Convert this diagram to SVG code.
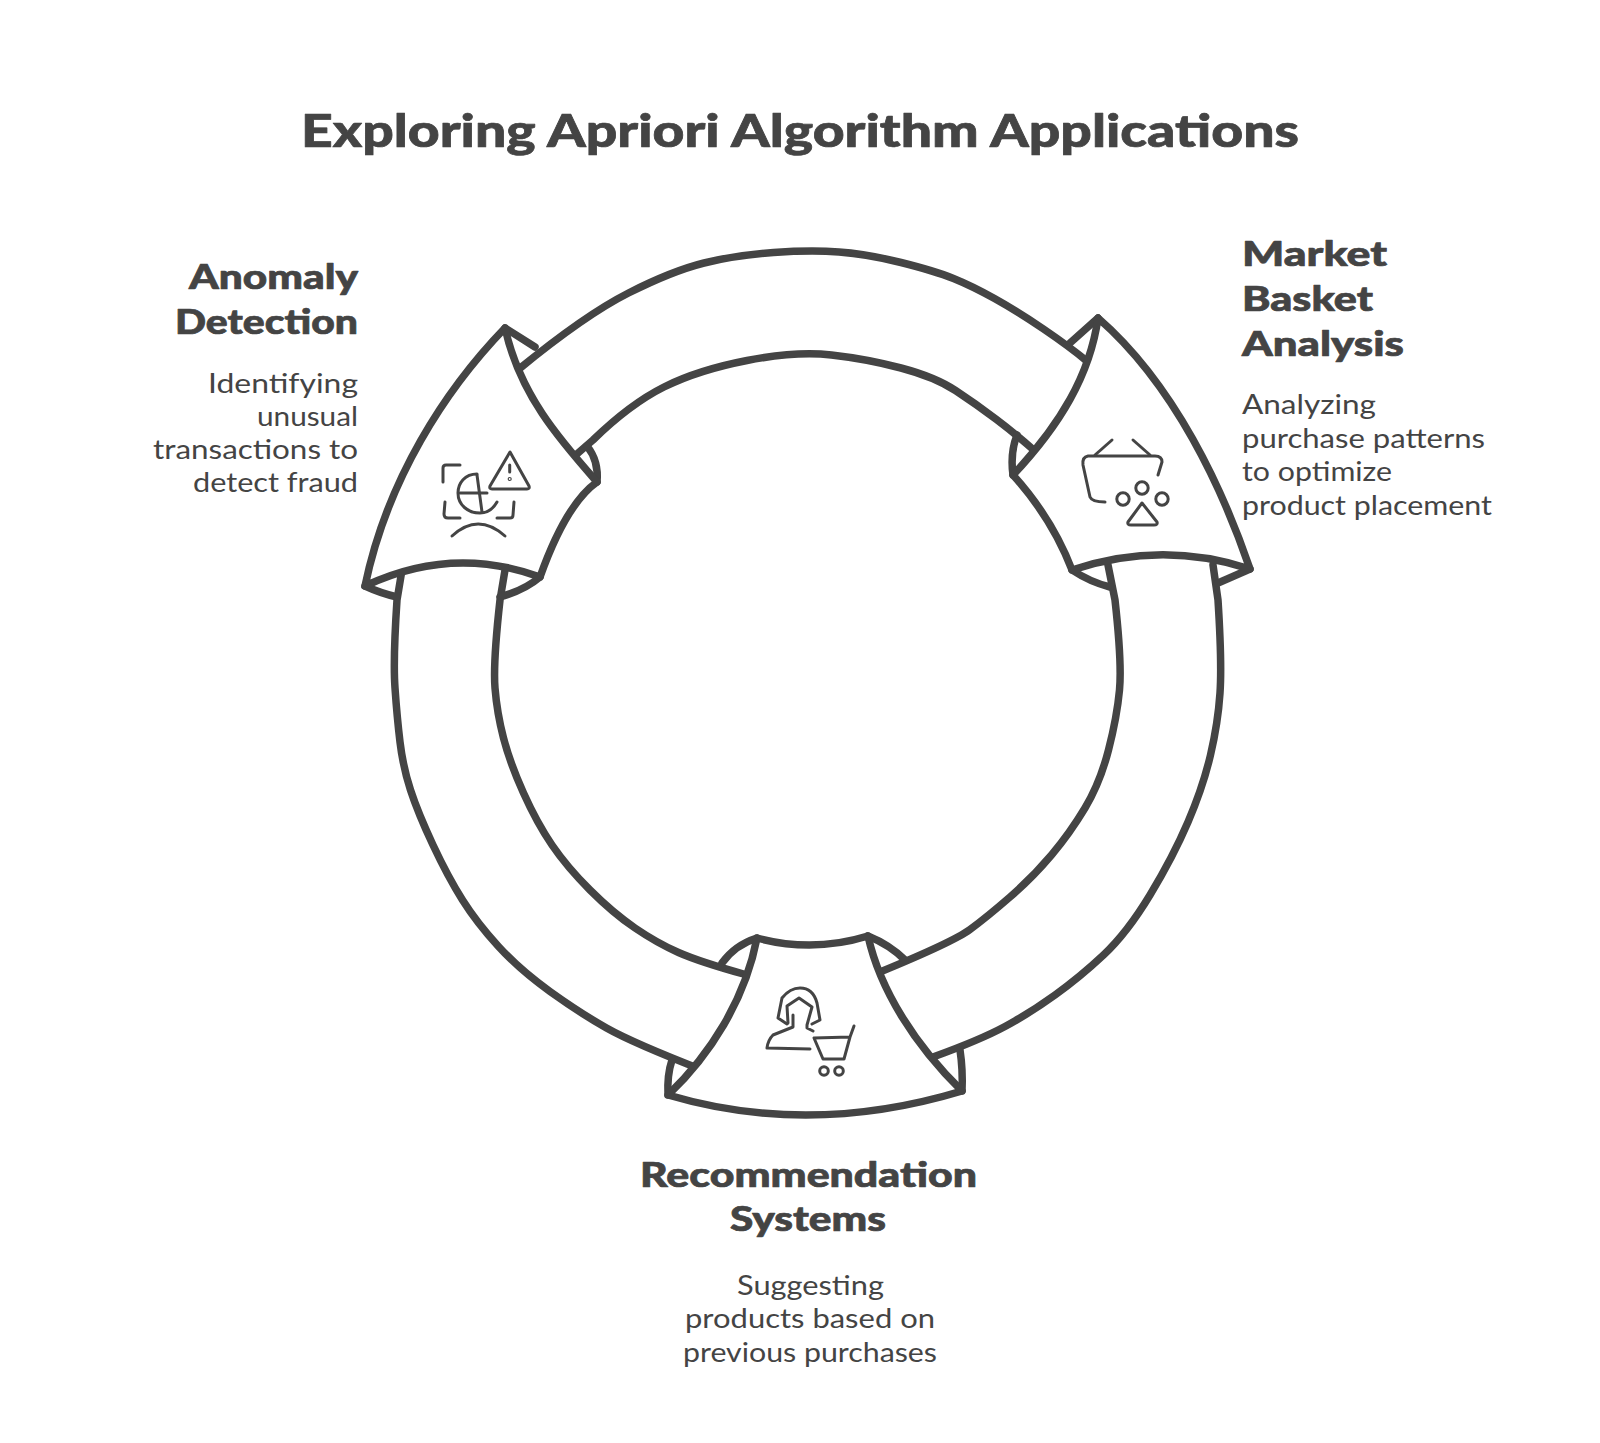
<svg xmlns="http://www.w3.org/2000/svg" width="1600" height="1443" viewBox="0 0 1600 1443">
<style>
.head{font-family:"Lato","Liberation Sans",sans-serif;font-weight:900;fill:#444;stroke:#444;stroke-width:0.7;stroke-linejoin:round}
.title{font-size:46px}
.h{font-size:34px}
.d{font-family:"Lato","Liberation Sans",sans-serif;font-weight:400;font-size:27px;fill:#444}
.band{fill:none;stroke:#444;stroke-width:7.5;stroke-linecap:round;stroke-linejoin:round}
.shape{fill:#fff;stroke:#444;stroke-width:7.5;stroke-linejoin:round}
.icon{fill:none;stroke:#444;stroke-width:3;stroke-linecap:round;stroke-linejoin:round}
</style>
<rect width="1600" height="1443" fill="#fff"/>
<text id="title" class="head title" x="301" y="147" textLength="998" lengthAdjust="spacingAndGlyphs">Exploring Apriori Algorithm Applications</text>
<g id="connectors">
<path class="band" d="M519,369 Q585,315 628.5,293 Q672,271 704,263 Q736,255 773.5,252.5 Q811,250 839,252 Q867,254 901,262.5 Q935,271 953.5,278.5 Q972,286 994.5,298.5 Q1017,311 1043.5,329 Q1070,347 1088,362"/>
<path class="band" d="M570,460 L593,440 Q630,404 664,387 Q698,370 747,360.5 Q796,351 831.5,355 Q867,359 901,368 Q935,377 955.5,390.5 Q976,404 996.5,419.5 Q1017,435 1036,452"/>
<path class="band" d="M402,570 L397,600 Q393,660 395,688 Q397,717 400,742 Q403,767 410.5,790 Q418,813 433,845 Q448,877 462.5,900 Q477,923 498.5,946.5 Q520,970 550,991.5 Q580,1013 606.5,1028 Q633,1043 705,1071"/>
<path class="band" d="M505,570 L500,600 Q493,663 495,688 Q497,713 503.5,738 Q510,763 523.5,793 Q537,823 552,845 Q567,867 590,890 Q613,913 635,928 Q657,943 678.5,952.5 Q700,962 747,975"/>
<path class="band" d="M1213,565 L1218,600 Q1222,663 1220,693 Q1218,723 1210.5,755 Q1203,787 1188,822 Q1173,857 1150,895 Q1127,933 1103.5,955 Q1080,977 1055,995 Q1030,1013 1005,1026.5 Q980,1040 933,1057"/>
<path class="band" d="M1108,565 L1115,600 Q1122,663 1119.5,690 Q1117,717 1108.5,750 Q1100,783 1085,808 Q1070,833 1051.5,855 Q1033,877 1010,897 Q987,917 970,929.5 Q953,942 880,972"/>
<path class="band" d="M505,328 L535,347"/>
<path class="band" d="M597,482 Q599,461 587,446"/>
<path class="band" d="M365,586 Q380,593 397,597"/>
<path class="band" d="M540,577 Q525,590 500,597"/>
<path class="band" d="M1098,318 L1070,343"/>
<path class="band" d="M1013,475 Q1010,453 1017,435"/>
<path class="band" d="M1072,570 Q1090,582 1110,587"/>
<path class="band" d="M1250,569 L1218,583"/>
<path class="band" d="M757,938 Q735,945 722,963"/>
<path class="band" d="M868,936 Q890,945 905,960"/>
<path class="band" d="M668,1095 Q667,1075 672,1060"/>
<path class="band" d="M962,1091 Q963,1070 960,1050"/>
</g>
<g id="node-anomaly">
<path class="shape" d="M505,328 C445,390 387,480 365,586 Q452,545 540,577 Q566,504 597,482 C560,440 520,395 505,328 Z"/>
<g class="icon">
<path d="M510,452 L490,486 Q489,489 492,489 L527,489 Q530,489 529,486 Z"/>
<path d="M509.7,465 V472"/><circle cx="509.7" cy="479" r="0.6"/>
<path d="M460,465 H446 Q443,465 443,468 V482"/>
<path d="M445,502 L444,514 Q444,518 448,518 L460,518"/>
<path d="M497,518 H510 Q513,518 513,515 L514,502"/>
<path d="M477,474 C465,474 458,483 458,493 C458,505 468,513 480,513 C488,513 493,509 497,502"/>
<path d="M460,493 H487"/><path d="M477,475 L482,512"/>
<path d="M452,536 Q478,512 505,536"/>
</g>
<text class="head h" x="189" y="289" textLength="169" lengthAdjust="spacingAndGlyphs">Anomaly</text>
<text class="head h" x="175" y="334" textLength="183" lengthAdjust="spacingAndGlyphs">Detection</text>
<text class="d" x="208" y="393" textLength="150" lengthAdjust="spacingAndGlyphs">Identifying</text>
<text class="d" x="257" y="426" textLength="101" lengthAdjust="spacingAndGlyphs">unusual</text>
<text class="d" x="153" y="459" textLength="205" lengthAdjust="spacingAndGlyphs">transactions to</text>
<text class="d" x="193" y="492" textLength="165" lengthAdjust="spacingAndGlyphs">detect fraud</text>
</g>
<g id="node-market">
<path class="shape" d="M1098,318 C1090,375 1060,425 1013,475 Q1052,518 1072,570 Q1162,540 1250,569 C1223,490 1175,385 1098,318 Z"/>
<g class="icon">
<path d="M1112,440 L1095,455"/><path d="M1133,440 L1150,455"/>
<path d="M1158,475 L1162,462 Q1162,456 1155,456 H1088 Q1082,457 1083,465 L1090,497 Q1092,502 1105,502"/>
<circle cx="1123" cy="499" r="6.2"/><circle cx="1142" cy="488" r="6.2"/><circle cx="1162" cy="499" r="6.2"/>
<path d="M1142,503 L1128,522 Q1127,525 1131,525 H1154 Q1158,525 1157,522 Z"/>
</g>
<text class="head h" x="1242" y="266" textLength="145" lengthAdjust="spacingAndGlyphs">Market</text>
<text class="head h" x="1242" y="311" textLength="131" lengthAdjust="spacingAndGlyphs">Basket</text>
<text class="head h" x="1242" y="356" textLength="162" lengthAdjust="spacingAndGlyphs">Analysis</text>
<text class="d" x="1242" y="414" textLength="134" lengthAdjust="spacingAndGlyphs">Analyzing</text>
<text class="d" x="1242" y="448" textLength="243" lengthAdjust="spacingAndGlyphs">purchase patterns</text>
<text class="d" x="1242" y="481" textLength="150" lengthAdjust="spacingAndGlyphs">to optimize</text>
<text class="d" x="1242" y="515" textLength="250" lengthAdjust="spacingAndGlyphs">product placement</text>
</g>
<g id="node-recommendation">
<path class="shape" d="M757,938 Q813,953 868,936 C880,990 915,1045 962,1091 Q810,1137 668,1095 C710,1055 745,1000 757,938 Z"/>
<g class="icon">
<path d="M787,1024 L778,1018 L782,998 Q790,988 800,988 Q813,988 817,1003 L820,1020 L812,1024"/>
<path d="M788,1023 L787,1006 L799,998 L812,1007 L807,1025 V1028 L813,1031"/>
<path d="M793,1015 V1027 L773,1035 Q768,1040 767,1048 L810,1049"/>
<path d="M854,1026 L850,1037 L844,1059 H823 L814,1038 L850,1037"/>
<circle cx="824" cy="1071" r="4.3"/><circle cx="839" cy="1071" r="4.3"/>
</g>
<text class="head h" x="640" y="1187" textLength="337" lengthAdjust="spacingAndGlyphs">Recommendation</text>
<text class="head h" x="730" y="1231" textLength="156" lengthAdjust="spacingAndGlyphs">Systems</text>
<text class="d" x="737" y="1295" textLength="147" lengthAdjust="spacingAndGlyphs">Suggesting</text>
<text class="d" x="685" y="1328" textLength="250" lengthAdjust="spacingAndGlyphs">products based on</text>
<text class="d" x="683" y="1362" textLength="254" lengthAdjust="spacingAndGlyphs">previous purchases</text>
</g>
</svg>
